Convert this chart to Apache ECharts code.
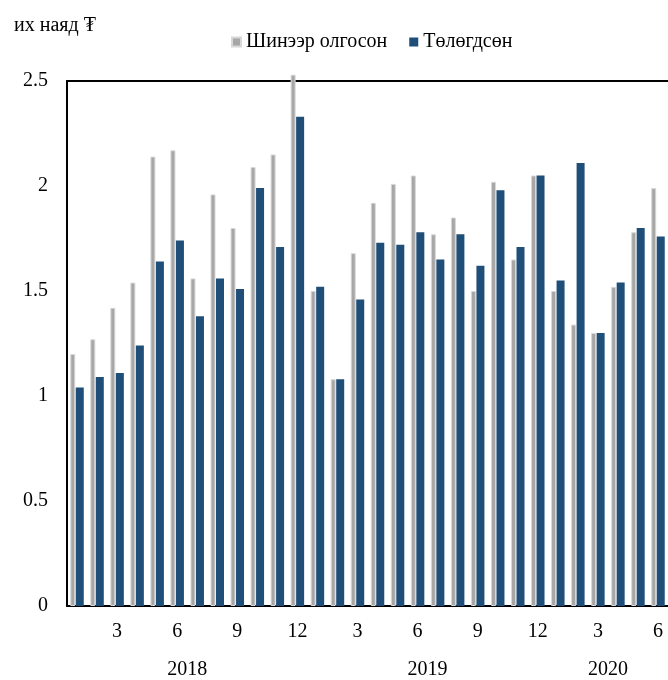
<!DOCTYPE html>
<html>
<head>
<meta charset="utf-8">
<script src="https://cdn.jsdelivr.net/npm/echarts@6/dist/echarts.min.js"></script>
<style>
  html, body { margin: 0; padding: 0; background: #fff; }
  #chart { width: 668px; height: 680px; }
</style>
</head>
<body>
<div id="chart"></div>
<script>
// Monthly loans: newly issued vs repaid, trillion ₮
const years = ['2018', '2019', '2020'];
const monthsPerYear = [12, 12, 6];
const monthLabels = [
  '1','2','3','4','5','6','7','8','9','10','11','12',
  '1','2','3','4','5','6','7','8','9','10','11','12',
  '1','2','3','4','5','6'
];
const issued = [
  1.20, 1.27, 1.42, 1.54, 2.14, 2.17, 1.56, 1.96, 1.80, 2.09, 2.15, 2.53,
  1.50, 1.08, 1.68, 1.92, 2.01, 2.05, 1.77, 1.85, 1.50, 2.02, 1.65, 2.05,
  1.50, 1.34, 1.30, 1.52, 1.78, 1.99
];
const repaid = [
  1.04, 1.09, 1.11, 1.24, 1.64, 1.74, 1.38, 1.56, 1.51, 1.99, 1.71, 2.33,
  1.52, 1.08, 1.46, 1.73, 1.72, 1.78, 1.65, 1.77, 1.62, 1.98, 1.71, 2.05,
  1.55, 2.11, 1.30, 1.54, 1.80, 1.76
];
const yTicks = { min: 0, max: 2.5, step: 0.5 };

// year label sits at the middle of that year's run of months
const yearCenters = [];
let start = 0;
monthsPerYear.forEach(n => { yearCenters.push(start + n / 2); start += n; });

const FONT = '"Liberation Serif", "Times New Roman", "DejaVu Serif", serif';
const FS = 20;
const chart = echarts.init(document.getElementById('chart'), null, { renderer: 'canvas' });

chart.setOption({
  animation: false,
  backgroundColor: '#ffffff',
  title: {
    text: 'их наяд ₮',
    left: 9, top: 11,
    textStyle: { fontFamily: FONT, fontSize: FS, fontWeight: 'normal', color: '#000' }
  },
  legend: {
    left: 226, top: 27,
    icon: 'rect', itemWidth: 9, itemHeight: 9, itemGap: 22,
    textStyle: { fontFamily: FONT, fontSize: FS, color: '#000' },
    data: ['Шинээр олгосон', 'Төлөгдсөн']
  },
  grid: { left: 67, right: 0, top: 81, bottom: 74, containLabel: false },
  xAxis: [
    {
      type: 'category',
      data: monthLabels,
      position: 'bottom',
      axisLine: { show: true, lineStyle: { color: '#000', width: 2 } },
      axisTick: { show: false },
      axisLabel: {
        interval: (i) => (i + 1) % 3 === 0,
        margin: 16,
        fontFamily: FONT, fontSize: FS, color: '#000'
      },
      splitLine: { show: false }
    },
    {
      type: 'value',
      min: 0, max: monthLabels.length,
      position: 'bottom',
      offset: 38,
      axisLine: { show: false },
      axisTick: { show: false },
      splitLine: { show: false },
      axisLabel: {
        customValues: yearCenters,
        formatter: (v) => {
          const k = yearCenters.indexOf(v);
          return k >= 0 ? years[k] : '';
        },
        margin: 16,
        fontFamily: FONT, fontSize: FS, color: '#000'
      }
    },
    {
      type: 'category',
      data: monthLabels,
      position: 'top',
      axisLine: { show: true, lineStyle: { color: '#000', width: 2 } },
      axisTick: { show: false },
      axisLabel: { show: false },
      splitLine: { show: false }
    }
  ],
  yAxis: {
    type: 'value',
    min: yTicks.min, max: yTicks.max, interval: yTicks.step,
    axisLine: { show: true, lineStyle: { color: '#000', width: 2 } },
    axisTick: { show: false },
    splitLine: { show: false },
    axisLabel: { margin: 19, fontFamily: FONT, fontSize: FS, color: '#000' }
  },
  series: [
    {
      name: 'Шинээр олгосон',
      type: 'bar',
      xAxisIndex: 0,
      data: issued,
      barWidth: 5,
      barGap: '10%',
      clip: false,
      itemStyle: { color: '#a9a6a6', borderColor: '#d8d8d8', borderWidth: 1 }
    },
    {
      name: 'Төлөгдсөн',
      type: 'bar',
      xAxisIndex: 0,
      data: repaid,
      barWidth: 8,
      clip: false,
      itemStyle: { color: '#1f4e79' }
    }
  ]
});
</script>
</body>
</html>
